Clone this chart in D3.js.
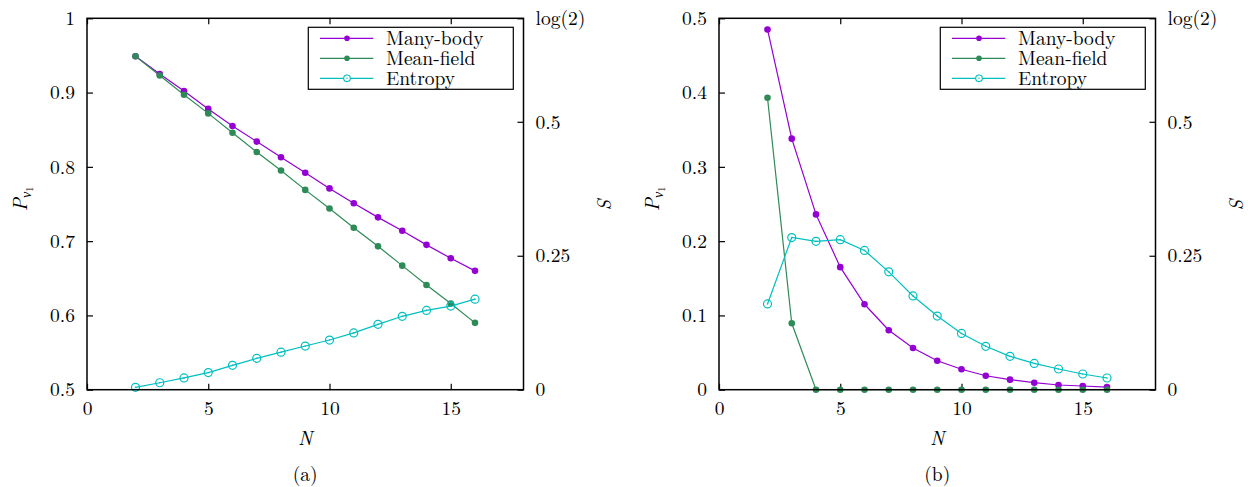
<!DOCTYPE html>
<html>
<head>
<meta charset="utf-8">
<script src="https://cdn.jsdelivr.net/npm/d3@7/dist/d3.min.js"></script>
<style>
  html, body { margin: 0; padding: 0; background: #fff; }
  svg { display: block; }
</style>
</head>
<body>
<svg id="chart" width="1248" height="487"></svg>
<script>
// System sizes
const sizes = [2, 3, 4, 5, 6, 7, 8, 9, 10, 11, 12, 13, 14, 15, 16];

// Panel (a): occupation of the leading natural orbital and entanglement entropy
const manyBodyA  = [0.949, 0.925, 0.902, 0.878, 0.855, 0.834, 0.813, 0.792, 0.771, 0.751, 0.732, 0.714, 0.695, 0.677, 0.660];
const meanFieldA = [0.949, 0.923, 0.897, 0.872, 0.846, 0.820, 0.795, 0.769, 0.744, 0.718, 0.693, 0.667, 0.641, 0.616, 0.590];
const entropyA   = [0.0045, 0.013, 0.022, 0.032, 0.0455, 0.0586, 0.070, 0.0815, 0.0927, 0.106, 0.122, 0.137, 0.148, 0.156, 0.169];

// Panel (b)
const manyBodyB  = [0.485, 0.338, 0.236, 0.165, 0.115, 0.080, 0.0562, 0.039, 0.0275, 0.0188, 0.0135, 0.0094, 0.0063, 0.005, 0.0036];
const meanFieldB = [0.393, 0.0894, 0, 0, 0, 0, 0, 0, 0, 0, 0, 0, 0, 0, 0];
const entropyB   = [0.160, 0.284, 0.277, 0.280, 0.260, 0.220, 0.175, 0.1375, 0.105, 0.081, 0.0623, 0.049, 0.0386, 0.0293, 0.0218];

// Axis ticks
const xTicks = [0, 5, 10, 15];
const yTicksA = [0.5, 0.6, 0.7, 0.8, 0.9, 1];
const yTicksB = [0, 0.1, 0.2, 0.3, 0.4, 0.5];
const sTicks = [0, 0.25, 0.5, Math.log(2)];
const sTickLabels = ["0", "0.25", "0.5", "log(2)"];
const seriesNames = ["Many-body", "Mean-field", "Entropy"];
const panelLabels = ["(a)", "(b)"];

const colors = { many: "#9400d3", mean: "#2e8b57", ent: "#00bfbf" };

const FONT = '"Latin Modern Roman", "Liberation Serif", serif';
const FS = 19.5;

const svg = d3.select("#chart");

function txt(sel) {
  return sel.style("font-family", FONT).style("font-size", FS + "px").style("fill", "#000");
}

function drawPanel(ox, yDomain, yTicks, many, mean, ent, panelLabel) {
  const left = ox, right = ox + 436.5, top = 18.3, bottom = 389.7;
  const x = d3.scaleLinear().domain([0, 18]).range([left, right]);
  const y = d3.scaleLinear().domain(yDomain).range([bottom, top]);
  const s = d3.scaleLinear().domain([0, Math.log(2)]).range([bottom, top]);
  const g = svg.append("g");

  const tickLen = 6;
  const bx = g.append("g").attr("transform", `translate(0,${bottom})`)
    .call(d3.axisBottom(x).tickValues(xTicks).tickSizeInner(-tickLen).tickSizeOuter(0).tickPadding(11).tickFormat(d3.format("d")));
  const tx = g.append("g").attr("transform", `translate(0,${top})`)
    .call(d3.axisTop(x).tickValues(xTicks).tickSizeInner(-tickLen).tickSizeOuter(0).tickFormat(""));
  const ly = g.append("g").attr("transform", `translate(${left},0)`)
    .call(d3.axisLeft(y).tickValues(yTicks).tickSizeInner(-tickLen).tickSizeOuter(0).tickPadding(12).tickFormat(d => String(d)));
  const ry = g.append("g").attr("transform", `translate(${right},0)`)
    .call(d3.axisRight(s).tickValues(sTicks).tickSizeInner(-tickLen).tickSizeOuter(0).tickPadding(12).tickFormat((d, i) => sTickLabels[i]));

  [bx, tx, ly, ry].forEach(a => {
    a.select(".domain").remove();
    a.selectAll("line").attr("stroke", "#000").attr("stroke-width", 1.2);
    txt(a.selectAll("text"));
  });
  bx.selectAll("text").attr("dy", "0.71em");

  // Series lines and markers
  const lineY = d3.line().x((d, i) => x(sizes[i])).y(d => y(d));
  const lineS = d3.line().x((d, i) => x(sizes[i])).y(d => s(d));

  g.append("path").datum(many).attr("d", lineY).attr("fill", "none").attr("stroke", colors.many).attr("stroke-width", 1.2);
  g.append("path").datum(mean).attr("d", lineY).attr("fill", "none").attr("stroke", colors.mean).attr("stroke-width", 1.2);
  g.append("path").datum(ent).attr("d", lineS).attr("fill", "none").attr("stroke", colors.ent).attr("stroke-width", 1.2);

  g.selectAll(null).data(many).enter().append("circle")
    .attr("cx", (d, i) => x(sizes[i])).attr("cy", d => y(d)).attr("r", 3.3).attr("fill", colors.many);
  g.selectAll(null).data(mean).enter().append("circle")
    .attr("cx", (d, i) => x(sizes[i])).attr("cy", d => y(d)).attr("r", 3.3).attr("fill", colors.mean);
  g.selectAll(null).data(ent).enter().append("circle")
    .attr("cx", (d, i) => x(sizes[i])).attr("cy", d => s(d)).attr("r", 4)
    .attr("fill", "none").attr("stroke", colors.ent).attr("stroke-width", 1.2);
  g.selectAll(null).data(ent).enter().append("circle")
    .attr("cx", (d, i) => x(sizes[i])).attr("cy", d => s(d)).attr("r", 0.8).attr("fill", colors.ent);

  // Plot frame
  g.append("rect").attr("x", left).attr("y", top)
    .attr("width", right - left).attr("height", bottom - top)
    .attr("fill", "none").attr("stroke", "#000").attr("stroke-width", 1.5);

  // Legend
  const lg = g.append("g");
  const lx = left + 221.3, ly0 = 27.3;
  lg.append("rect").attr("x", lx).attr("y", ly0).attr("width", 205).attr("height", 62)
    .attr("fill", "#fff").attr("stroke", "#000").attr("stroke-width", 1.2);
  const legendItems = [
    { name: seriesNames[0], color: colors.many, open: false },
    { name: seriesNames[1], color: colors.mean, open: false },
    { name: seriesNames[2], color: colors.ent, open: true }
  ];
  legendItems.forEach((it, i) => {
    const yy = 38.3 + i * 20;
    lg.append("line").attr("x1", lx + 11.7).attr("x2", lx + 65).attr("y1", yy).attr("y2", yy)
      .attr("stroke", it.color).attr("stroke-width", 1.2);
    if (it.open) {
      lg.append("circle").attr("cx", lx + 38.7).attr("cy", yy).attr("r", 3.3)
        .attr("fill", "#fff").attr("stroke", it.color).attr("stroke-width", 1.1);
      lg.append("circle").attr("cx", lx + 38.7).attr("cy", yy).attr("r", 0.7).attr("fill", it.color);
    } else {
      lg.append("circle").attr("cx", lx + 38.7).attr("cy", yy).attr("r", 2.8).attr("fill", it.color);
    }
    txt(lg.append("text").attr("x", lx + 77.7).attr("y", yy).attr("dy", "0.32em").text(it.name));
  });

  // Axis titles
  const cx = (left + right) / 2;
  txt(g.append("text").attr("x", cx).attr("y", 445).attr("text-anchor", "middle"))
    .style("font-style", "italic").text("N");
  txt(g.append("text").attr("x", cx).attr("y", 481).attr("text-anchor", "middle")).text(panelLabel);

  const pl = txt(g.append("text").attr("transform", `translate(${left - 60},199) rotate(-90)`)
    .attr("text-anchor", "middle")).style("font-style", "italic");
  pl.append("tspan").text("P");
  pl.append("tspan").style("font-size", "14px").attr("dy", 4).text("ν");
  pl.append("tspan").style("font-size", "10px").style("font-style", "normal").attr("dy", 2).text("1");

  txt(g.append("text").attr("transform", `translate(${right + 80},202) rotate(90)`)
    .attr("text-anchor", "middle").attr("dy", "0.33em")).style("font-style", "italic").text("S");
}

drawPanel(87, [0.5, 1], yTicksA, manyBodyA, meanFieldA, entropyA, panelLabels[0]);
drawPanel(719, [0, 0.5], yTicksB, manyBodyB, meanFieldB, entropyB, panelLabels[1]);
</script>
</body>
</html>
